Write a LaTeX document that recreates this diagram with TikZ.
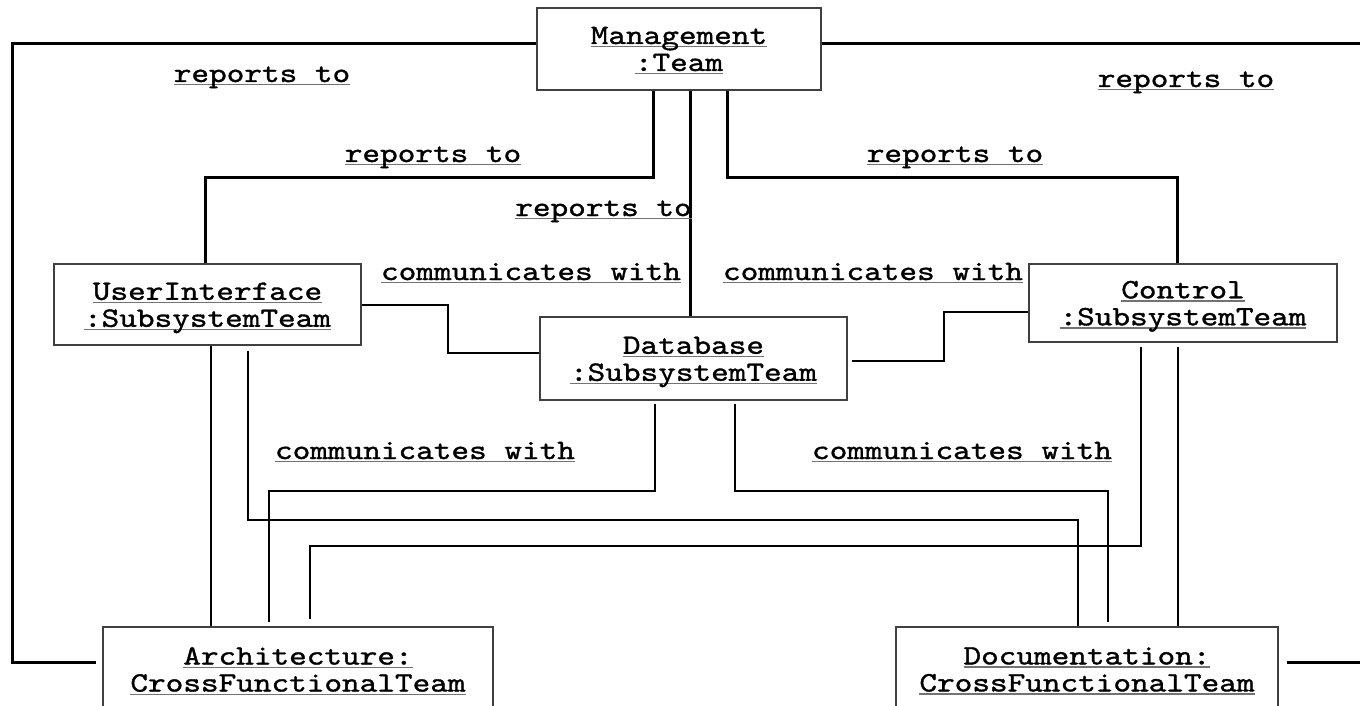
\documentclass[tikz,border=0pt]{standalone}
\usepackage{fontspec}
\newfontfamily\teamfont[FakeStretch=1.2,FakeBold=1.2]{lmmono10-regular.otf}
% underline that does not add depth to the line
\newcommand\ulbox[1]{\setbox0\hbox{#1}\rlap{\smash{\color{black!55}\rule[-1.6pt]{\wd0}{0.6pt}}}\box0}
\newcommand\topstrut{\rule{0pt}{12pt}}

\begin{document}
\begin{tikzpicture} [
            x=0.5pt,
            y=-0.5pt,
            team/.style = {draw=black!75, line width=0.6pt, inner sep=0pt, align=center,
                           font=\teamfont\fontsize{14}{13.5}\selectfont},
            lbl/.style = {inner sep=0pt, anchor=base, font=\teamfont\fontsize{14}{13}\selectfont},
            report/.style = {draw, line width=1.5pt},
            talk/.style = {draw, line width=0.55pt}
        ]
        \useasboundingbox (0,0) rectangle (1360,706);
        % First we draw the teams
        \node[team, minimum width=142pt, minimum height=41pt] (mgmt) at (679,49)
            {\ulbox{Management}\\\ulbox{:Team}};
        \node[team, minimum width=153.5pt, minimum height=40.5pt] (ui) at (207.5,304.5)
            {\topstrut\ulbox{UserInterface}\\\ulbox{:SubsystemTeam}};
        \node[team, minimum width=153.5pt, minimum height=41.5pt] (db) at (693.5,358.5)
            {\topstrut\ulbox{Database}\\\ulbox{:SubsystemTeam}};
        \node[team, minimum width=154pt, minimum height=39pt] (ctrl) at (1183,303)
            {\topstrut\ulbox{Control}\\\ulbox{:SubsystemTeam}};
        \node[team, minimum width=195pt, minimum height=42.5pt] (arch) at (298,669.5)
            {\ulbox{Architecture:}\\\ulbox{CrossFunctionalTeam}};
        \node[team, minimum width=191pt, minimum height=42.5pt] (doc) at (1087,669.5)
            {\ulbox{Documentation:}\\\ulbox{CrossFunctionalTeam}};
        % bend points
        \coordinate (tl) at (12,44);    \coordinate (bl) at (12,662);
        \coordinate (tr) at (1362,44);  \coordinate (br) at (1362,662);
        \coordinate (r0) at (205,177);  \coordinate (r1) at (653,177);
        \coordinate (r2) at (690,0);
        \coordinate (r3) at (727,177);  \coordinate (r4) at (1177,177);
        % reports to
        \path[report, shorten >=3pt] (mgmt.west |- tl) -- (tl) -- (bl) -- (arch.west |- bl);
        \path[report] (mgmt.east |- tr) -- (tr);
        \path[report, shorten <=4pt] (doc.east |- br) -- (br);
        \path[report] (mgmt.south -| r1) -- (r1) -- (r0) -- (ui.north -| r0);
        \path[report] (mgmt.south -| r2) -- (db.north -| r2);
        \path[report] (mgmt.south -| r3) -- (r3) -- (r4) -- (ctrl.north -| r4);
        % communicates with
        \coordinate (c1) at (448,305);  \coordinate (c2) at (448,353);
        \coordinate (c3) at (944,361);  \coordinate (c4) at (944,312);
        \coordinate (a0) at (211,0);
        \coordinate (u1) at (248,520);  \coordinate (u2) at (1078,520);
        \coordinate (d1) at (655,491);  \coordinate (d2) at (269,491);
        \coordinate (d3) at (735,491);  \coordinate (d4) at (1108,491);
        \coordinate (k1) at (1141,546); \coordinate (k2) at (310,546);
        \coordinate (k3) at (1178,0);
        \path[talk] (ui.east |- c1) -- (c1) -- (c2) -- (db.west |- c2);
        \path[talk, shorten <=2pt] (db.east |- c3) -- (c3) -- (c4) -- (ctrl.west |- c4);
        \path[talk] (ui.south -| a0) -- (arch.north -| a0);
        \path[talk, shorten <=2.5pt] (ui.south -| u1) -- (u1) -- (u2) -- (doc.north -| u2);
        \path[talk, shorten <=1.5pt, shorten >=2pt] (db.south -| d1) -- (d1) -- (d2) -- (arch.north -| d2);
        \path[talk, shorten <=1.5pt, shorten >=2pt] (db.south -| d3) -- (d3) -- (d4) -- (doc.north -| d4);
        \path[talk, shorten <=2pt, shorten >=3.5pt] (ctrl.south -| k1) -- (k1) -- (k2) -- (arch.north -| k2);
        \path[talk, shorten <=2pt] (ctrl.south -| k3) -- (doc.north -| k3);
        % labels
        \foreach \pos/\name/\txt in {
                {(262,82)/rl/reports to},
                {(433,162)/ru/reports to},
                {(603.5,216)/rd/reports to},
                {(955,162)/rc/reports to},
                {(1186,87)/rr/reports to},
                {(531,280)/cu/communicates with},
                {(873,280)/cc/communicates with},
                {(425,459)/ca/communicates with},
                {(962,459)/cd/communicates with}}
            \node[lbl] (\name) at \pos {\ulbox{\txt}};
    \end{tikzpicture}
\end{document}
